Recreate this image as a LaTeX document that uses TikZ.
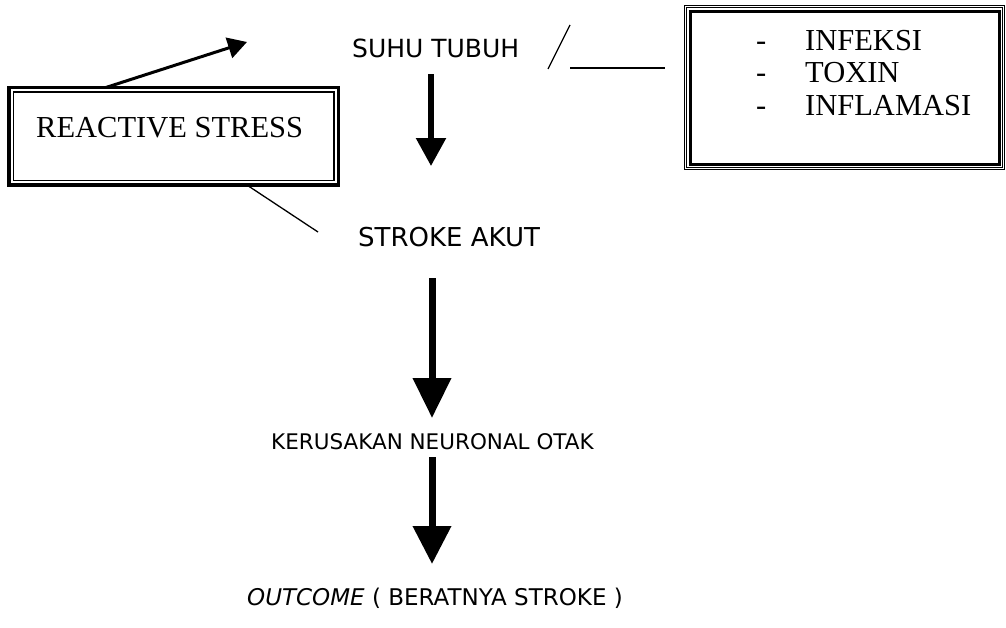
\documentclass[tikz,border=0pt]{standalone}
\usepackage{fontspec}
\setmainfont{Liberation Serif}
\newfontfamily\vfont{DejaVu Sans}
\usetikzlibrary{arrows.meta, calc}

\begin{document}
\begin{tikzpicture}[x=1pt,y=-1pt,
  sanslbl/.style={font=\vfont\fontsize{#1}{28}\selectfont,inner sep=0pt,anchor=base west},
  serlbl/.style={font=\fontsize{30.5}{33}\selectfont,inner sep=0pt,anchor=base west},
  framebox/.style={draw,outer sep=0pt,inner sep=0pt}]
  \useasboundingbox (0,0) rectangle (1006,627);
  % reactive stress box, thick outside, thin inside
  \node[framebox,line width=3.5pt,minimum width=329.5pt,minimum height=97.5pt]
    (rsbox) at (173.75,136.25) {};
  \draw[line width=1.1pt]([shift={(4.5,4.5)}]rsbox.north west)
    rectangle ([shift={(-4.5,-4.5)}]rsbox.south east);
  \node[serlbl] (rstext) at (36,137) {REACTIVE STRESS};
  % cause box, thin-thin-thick
  \node[framebox,line width=1pt,minimum width=320pt,minimum height=164pt]
    (cbox) at (844.5,87.5) {};
  \draw[line width=1pt]([shift={(2.3,2.3)}]cbox.north west)
    rectangle ([shift={(-2.3,-2.3)}]cbox.south east);
  \draw[line width=3pt]([shift={(5.5,5.5)}]cbox.north west)
    rectangle ([shift={(-5.5,-5.5)}]cbox.south east);
  \foreach \yb/\txt [count=\i] in {50/INFEKSI, 82/TOXIN, 115/INFLAMASI}{
    \node[serlbl] (dash\i) at (756,\yb) {-};
    \node[serlbl] (cause\i) at (805,\yb) {\txt};}
  % chain labels
  \node[sanslbl=25] (suhu) at (352,57) {SUHU TUBUH};
  \node[sanslbl=26] (stroke) at (358,246) {STROKE AKUT};
  \node[sanslbl=21.5] (rusak) at (271,449) {KERUSAKAN NEURONAL OTAK};
  \node[sanslbl=23] (outcome) at (247,605) {\textit{OUTCOME} ( BERATNYA STROKE )};
  % arrow ends
  \coordinate (a1top) at (431,74);  \coordinate (a1tip) at (431,166);
  \coordinate (a2top) at (432,278); \coordinate (a2tip) at (432,418);
  \coordinate (a3top) at (432,457); \coordinate (a3tip) at (432,564);
  \coordinate (rstip) at (247,42);
  \coordinate (rsend) at (318,232);
  \coordinate (sl1) at (548,69); \coordinate (sl2) at (570,25);
  \coordinate (hl1) at (570,68); \coordinate (hl2) at (665,68);
  % down arrows
  \draw[line width=5.5pt,-{Triangle[length=28pt,width=29pt]}](a1top)--(a1tip);
  \draw[line width=7pt,-{Triangle[length=40pt,width=37pt]}](a2top)--(a2tip);
  \draw[line width=7pt,-{Triangle[length=38pt,width=37pt]}](a3top)--(a3tip);
  % lines at the reactive stress box
  \draw[line width=3pt,-{Triangle[length=19pt,width=21pt]}]
    ($(rsbox.north west)!0.294!(rsbox.north east)$)--(rstip);
  \draw[line width=1.3pt]($(rsbox.south west)!0.722!(rsbox.south east)$)--(rsend);
  % loose strokes near suhu tubuh
  \draw[line width=1.3pt](sl1)--(sl2);
  \draw[line width=1.3pt](hl1)--(hl2);
\end{tikzpicture}
\end{document}
